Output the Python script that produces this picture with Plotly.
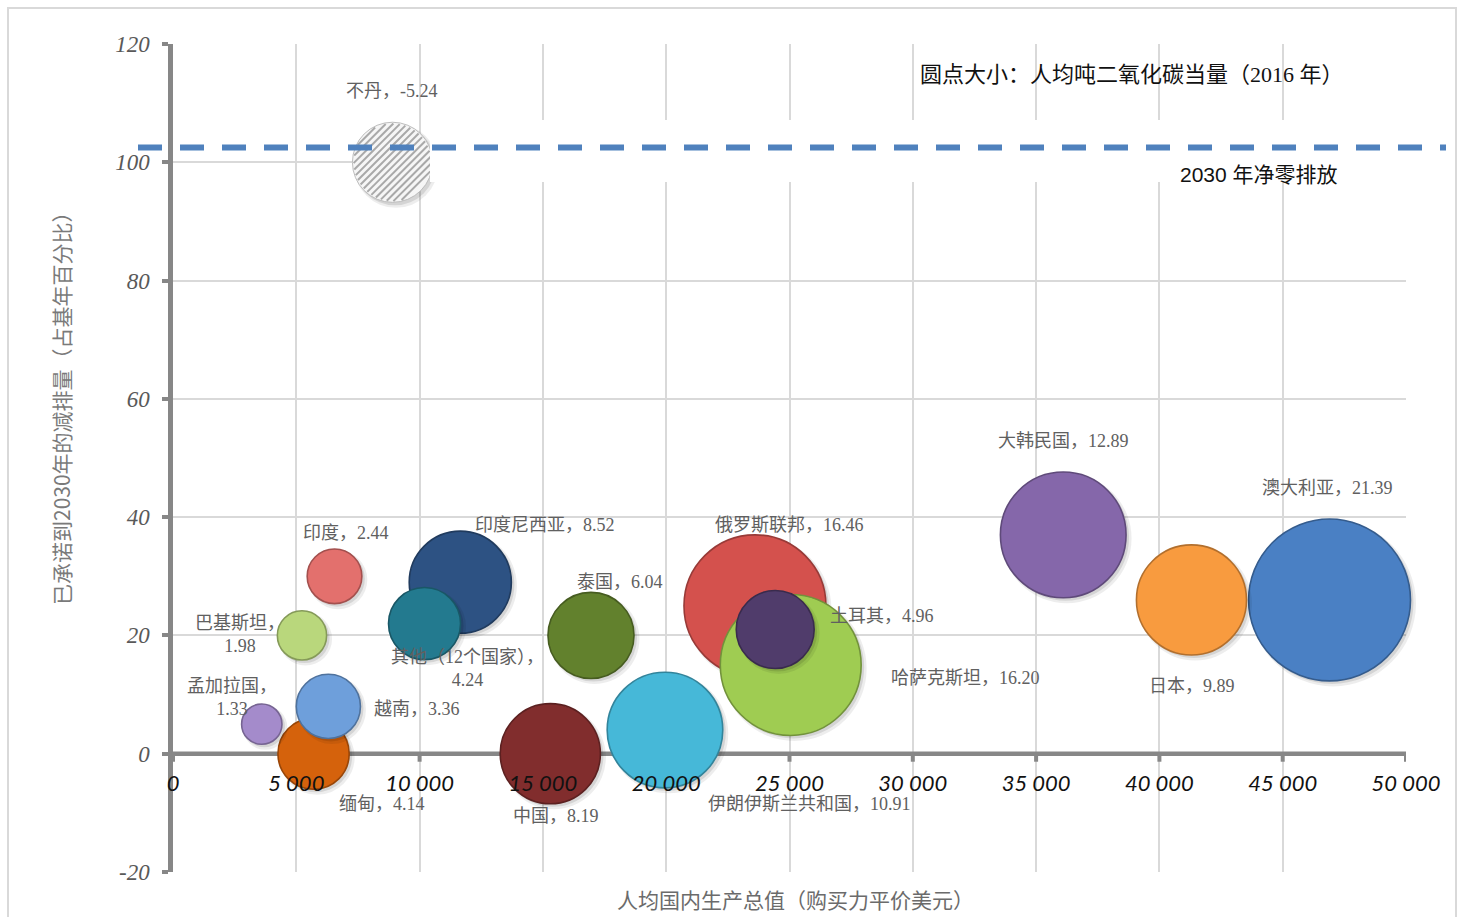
import numpy as np
import plotly.graph_objects as go

# ---- data -------------------------------------------------------------
countries = [
    "不丹", "印度", "巴基斯坦", "孟加拉国", "越南", "缅甸", "印度尼西亚",
    "其他（12个国家）", "泰国", "中国", "伊朗伊斯兰共和国", "俄罗斯联邦",
    "哈萨克斯坦", "土耳其", "大韩民国", "日本", "澳大利亚",
]
gdp_per_capita = [8900, 6550, 5230, 3600, 6300, 5700, 11650, 10200, 16950,
                  15300, 19950, 23600, 25050, 24420, 36100, 41300, 46900]
reduction_pct = [100, 30, 20, 5, 8, 0, 29, 22, 20, 0, 4, 25, 15, 21, 37, 26, 26]
co2_per_capita = [-5.24, 2.44, 1.98, 1.33, 3.36, 4.14, 8.52, 4.24, 6.04,
                  8.19, 10.91, 16.46, 16.20, 4.96, 12.89, 9.89, 21.39]
net_zero_level = 102.5

x_ticks = [0, 5000, 10000, 15000, 20000, 25000, 30000, 35000, 40000, 45000, 50000]
y_ticks = [-20, 0, 20, 40, 60, 80, 100, 120]

# ---- styling ------------------------------------------------------------
colors = {
    "印度": "#E3706D", "巴基斯坦": "#B9D77C", "孟加拉国": "#A48BCB",
    "越南": "#6E9FDB", "缅甸": "#D5620C", "印度尼西亚": "#2D5283",
    "其他（12个国家）": "#237A8F", "泰国": "#62812D", "中国": "#812D2D",
    "伊朗伊斯兰共和国": "#46B8D8", "俄罗斯联邦": "#D4514D",
    "哈萨克斯坦": "#9FCC52", "土耳其": "#503C6B", "大韩民国": "#8567AA",
    "日本": "#F89B3F", "澳大利亚": "#4A80C4",
}
# label offsets in pixels (dx right, dy up) and optional line break
label_style = {
    "不丹": (0, 71, False), "印度": (11, 43, False), "巴基斯坦": (-62, 1, True),
    "孟加拉国": (-30, 27, True), "越南": (89, -3, False), "缅甸": (68, -50, False),
    "印度尼西亚": (85, 57, False), "其他（12个国家）": (43, -45, True),
    "泰国": (29, 53, False), "中国": (6, -62, False),
    "伊朗伊斯兰共和国": (145, -74, False), "俄罗斯联邦": (35, 81, False),
    "哈萨克斯坦": (175, -13, False), "土耳其": (107, 14, False),
    "大韩民国": (0, 94, False), "日本": (1, -86, False), "澳大利亚": (-2, 112, False),
}

W, H = 1460, 917
M_L, M_R, M_T, M_B = 173, 54, 44, 45
PLOT_W, PLOT_H = W - M_L - M_R, H - M_T - M_B
X_RANGE = [0, 50000]
Y_RANGE = [-20, 120]
SIZEREF = 2.0 / 35.0 ** 2          # bubble diameter = 35 px * sqrt(value)
PX_X = PLOT_W / (X_RANGE[1] - X_RANGE[0])
PX_Y = PLOT_H / (Y_RANGE[1] - Y_RANGE[0])
AXIS_GRAY = "#878787"

def darker(hex_color, f=0.72):
    h = hex_color.lstrip("#")
    r, g, b = (int(h[i:i + 2], 16) for i in (0, 2, 4))
    return "rgb({},{},{})".format(int(r * f), int(g * f), int(b * f))

LABEL_FONT = dict(family="Liberation Serif, Noto Sans CJK SC", size=18, color="#606060")

fig = go.Figure()

def add_bubble(i, fill, outline, outline_w):
    size = abs(co2_per_capita[i])
    # soft drop shadow, offset down-right
    for off, alpha, grow in ((3.5, 0.07, 4), (2.5, 0.10, 1)):
        d = np.sqrt(2 * size / SIZEREF) + grow
        fig.add_trace(go.Scatter(
            x=[gdp_per_capita[i] + off / PX_X], y=[reduction_pct[i] - off / PX_Y],
            mode="markers",
            marker=dict(size=d, color=f"rgba(0,0,0,{alpha})", opacity=1, line=dict(width=0)),
            cliponaxis=False, hoverinfo="skip", showlegend=False,
        ))
    fig.add_trace(go.Scatter(
        x=[gdp_per_capita[i]], y=[reduction_pct[i]], mode="markers",
        marker=dict(size=[size], sizemode="area", sizeref=SIZEREF, color=fill,
                    opacity=1, line=dict(color=outline, width=outline_w)),
        cliponaxis=False, hoverinfo="skip", showlegend=False,
    ))

# negative value: drawn as a hatched bubble with its absolute size
for i in [k for k, v in enumerate(co2_per_capita) if v < 0]:
    add_bubble(i, "#f6f6f6", "#bdbdbd", 1.0)
    r_px = 0.5 * np.sqrt(2 * abs(co2_per_capita[i]) / SIZEREF) - 1.2
    hx, hy = [], []
    for d in np.arange(-r_px + 2, r_px - 1, 5.0):
        half = np.sqrt(r_px ** 2 - d ** 2)
        for s in (-1, 1):
            ox = d / np.sqrt(2) + s * half / np.sqrt(2)
            oy = d / np.sqrt(2) - s * half / np.sqrt(2)      # pixel offsets, y down
            hx.append(gdp_per_capita[i] + ox / PX_X)
            hy.append(reduction_pct[i] - oy / PX_Y)
        hx.append(None)
        hy.append(None)
    fig.add_trace(go.Scatter(x=hx, y=hy, mode="lines",
                             line=dict(color="#a9a9a9", width=2.0),
                             cliponaxis=False, hoverinfo="skip", showlegend=False))

# regular bubbles, larger ones first so smaller ones stay visible on top
order = sorted([k for k, v in enumerate(co2_per_capita) if v > 0],
               key=lambda k: -co2_per_capita[k])
for i in order:
    c = colors[countries[i]]
    add_bubble(i, c, darker(c), 1.6)

# data labels
for i, name in enumerate(countries):
    dx, dy, wrap = label_style[name]
    sep = "，<br>" if wrap else "，"
    fig.add_annotation(
        x=gdp_per_capita[i], y=reduction_pct[i], xref="x", yref="y",
        text=f"{name}{sep}{co2_per_capita[i]:.2f}", showarrow=False,
        xshift=dx, yshift=dy, font=LABEL_FONT, align="center",
        xanchor="center", yanchor="middle",
    )

def px_to_paper_x(px):
    return (px - M_L) / PLOT_W

def px_to_paper_y(py):
    return 1 - (py - M_T) / PLOT_H

shapes = [
    # outer chart border
    dict(type="rect", xref="paper", yref="paper",
         x0=px_to_paper_x(8), x1=px_to_paper_x(1456),
         y0=px_to_paper_y(930), y1=px_to_paper_y(8),
         line=dict(color="#d9d9d9", width=2), layer="below"),
    # horizontal axis line at y = 0
    dict(type="line", xref="x", yref="y", x0=X_RANGE[0], x1=X_RANGE[1], y0=0, y1=0,
         line=dict(color=AXIS_GRAY, width=4.5), layer="between"),
    # background box behind the net-zero caption
    dict(type="rect", xref="paper", yref="paper",
         x0=px_to_paper_x(430), x1=px_to_paper_x(1410),
         y0=px_to_paper_y(182), y1=px_to_paper_y(120),
         fillcolor="white", line=dict(width=0), layer="above"),
    # net-zero reference line
    dict(type="line", xref="paper", yref="y",
         x0=px_to_paper_x(138), x1=px_to_paper_x(1446),
         y0=net_zero_level, y1=net_zero_level,
         line=dict(color="#4F81BD", width=6, dash="24px,18px"), layer="above"),
]
# tick marks on the horizontal axis, kept beneath the bubbles
for t in x_ticks:
    shapes.append(dict(type="line", xref="x", yref="y", x0=t, x1=t,
                       ysizemode="pixel", yanchor=0, y0=0, y1=-8,
                       line=dict(color=AXIS_GRAY, width=4), layer="between"))

annotations_extra = [
    dict(text="圆点大小：人均吨二氧化碳当量（2016 年）",
         x=px_to_paper_x(1132), y=px_to_paper_y(75),
         font=dict(family="Liberation Serif, Noto Sans CJK SC", size=22, color="#111111")),
    dict(text="2030 年净零排放",
         x=px_to_paper_x(1259), y=px_to_paper_y(174),
         font=dict(family="Liberation Sans, Noto Sans CJK SC", size=21, color="#111111")),
    dict(text="人均国内生产总值（购买力平价美元）",
         x=px_to_paper_x(795), y=px_to_paper_y(899),
         font=dict(family="Noto Sans CJK SC", size=21, color="#6b6b6b")),
    dict(text="已承诺到2030年的减排量（占基年百分比）",
         x=px_to_paper_x(61), y=px_to_paper_y(403), textangle=-90,
         font=dict(family="Noto Sans CJK SC", size=21, color="#7a7a7a")),
]
for a in annotations_extra:
    fig.add_annotation(xref="paper", yref="paper", showarrow=False,
                       xanchor="center", yanchor="middle", **a)

fig.update_layout(
    width=W, height=H,
    margin=dict(l=M_L, r=M_R, t=M_T, b=M_B, pad=0),
    paper_bgcolor="white", plot_bgcolor="white",
    separators=". ",
    shapes=shapes,
    xaxis=dict(
        range=X_RANGE, tickvals=x_ticks, tickformat=",d",
        showgrid=True, gridcolor="#d9d9d9", gridwidth=1.5,
        zeroline=False, showline=False, ticks="",
        anchor="free", position=(0 - Y_RANGE[0]) / (Y_RANGE[1] - Y_RANGE[0]),
        tickfont=dict(family="Lato", size=22, color="#111111", style="italic"),
        ticklabelstandoff=14,
        fixedrange=True,
    ),
    yaxis=dict(
        range=Y_RANGE, tickvals=y_ticks, ticktext=[str(v) for v in y_ticks],
        showgrid=True, gridcolor="#d9d9d9", gridwidth=1.5,
        zeroline=False, showline=True, linecolor=AXIS_GRAY, linewidth=4.5,
        ticks="outside", ticklen=6, tickwidth=4, tickcolor=AXIS_GRAY,
        tickfont=dict(family="Liberation Serif", size=23, color="#595959", style="italic"),
        ticklabelstandoff=8,
        domain=[0, 1], fixedrange=True,
    ),
)

fig.write_html("out.html")
